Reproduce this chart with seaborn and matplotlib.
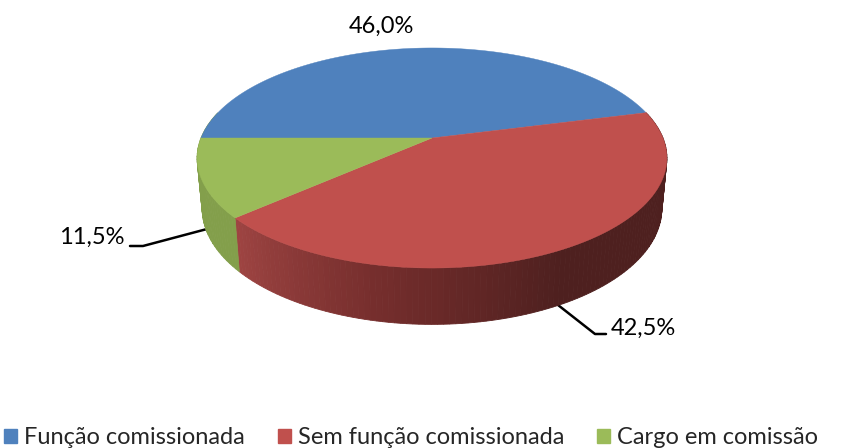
import numpy as np
import matplotlib
matplotlib.use('Agg')
import matplotlib.pyplot as plt
from matplotlib.patches import Patch
import seaborn as sns

categories = ['Função comissionada', 'Sem função comissionada', 'Cargo em comissão']
values = [46.0, 42.5, 11.5]
colors = ['#4f81bd', '#c0504d', '#9bbb59']

sns.set_theme(style='white')
plt.rcParams['font.family'] = ['Lato', 'DejaVu Sans']


# Unit circle to picture, with the perspective of the tilted 3D pie
def project(t, cx, cy, a, b, k=0.1818):
    x, y = np.cos(t), np.sin(t)
    return cx + b * x / (1 + k * y), cy - a * y / (1 + k * y)


def top_edge(t):
    return project(t, 432, 138, 106.4, 231)


def bottom_edge(t):
    return project(t, 432, 187.5, 112, 226)


fig, ax = plt.subplots(figsize=(8.66, 4.48), dpi=100)
ax.set_position([0, 0, 1, 1])
ax.set_xlim(0, 866)
ax.set_ylim(448, 0)
ax.axis('off')

# slices run clockwise from the left side of the pie
fractions = np.array(values) / sum(values)
edges = np.pi - 2 * np.pi * np.concatenate([[0], np.cumsum(fractions)])

# leader lines go under the pie
ax.plot([207, 143, 130], [229, 246, 246], color='black', lw=1.8, zorder=1)
ax.plot([558, 595, 606], [305, 334, 334], color='black', lw=1.8, zorder=1)

# side wall, only the front part shows
red_side = sns.blend_palette(['#9e4442', '#742d2c', '#4e201f', '#4e201f', '#4e201f'], 120)
green_side = sns.blend_palette(['#839f4b', '#839f4b'], 40)

red_t = np.linspace(edges[2], edges[1], 121)
for i in range(120):
    t = np.linspace(red_t[i], red_t[i + 1], 3)
    x1, y1 = top_edge(t)
    x2, y2 = bottom_edge(t[::-1])
    ax.fill(np.r_[x1, x2], np.r_[y1, y2], color=red_side[i], lw=0.6, zorder=2)

green_t = np.linspace(edges[2], -np.pi - 0.25, 41)
for i in range(40):
    t = np.linspace(green_t[i], green_t[i + 1], 3)
    x1, y1 = top_edge(t)
    x2, y2 = bottom_edge(t[::-1])
    ax.fill(np.r_[x1, x2], np.r_[y1, y2], color=green_side[i], lw=0.6, zorder=2)

# top faces
for i in range(3):
    t = np.linspace(edges[i], edges[i + 1], 200)
    x, y = top_edge(t)
    ax.fill(np.r_[432, x], np.r_[138, y], color=colors[i], lw=0.3, zorder=3)

# value labels
ax.text(381, 26, f'{values[0]:.1f}%'.replace('.', ','), fontsize=17, color='black', ha='center', va='center')
ax.text(643, 328, f'{values[1]:.1f}%'.replace('.', ','), fontsize=17, color='black', ha='center', va='center')
ax.text(92, 237, f'{values[2]:.1f}%'.replace('.', ','), fontsize=17, color='black', ha='center', va='center')

handles = [Patch(color=c, label=n) for c, n in zip(colors, categories)]
ax.legend(handles=handles, loc='lower left', bbox_to_anchor=(4, 448), bbox_transform=ax.transData,
          ncol=3, frameon=False, fontsize=17, handlelength=0.55, handleheight=0.55,
          handletextpad=0.3, columnspacing=1.4, borderpad=0, borderaxespad=0)

fig.savefig('out.png', dpi=100)
